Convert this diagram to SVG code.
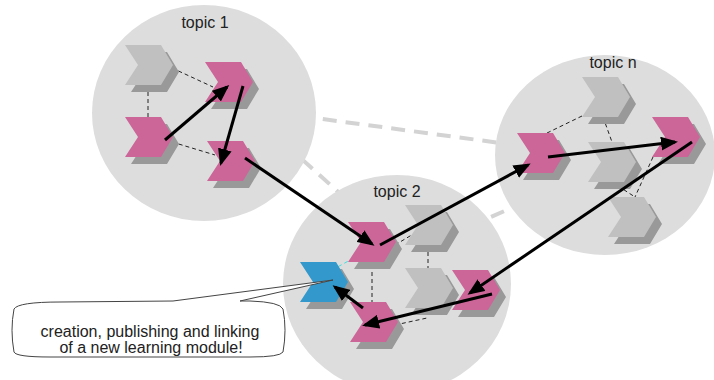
<svg xmlns="http://www.w3.org/2000/svg" xmlns:xlink="http://www.w3.org/1999/xlink" width="714" height="380" viewBox="0 0 714 380">
<style>
.topic{fill:#dddddd;}
.link{stroke:#d3d3d3;stroke-width:4;stroke-dasharray:14 9;fill:none;}
.lbl{font-family:"Liberation Sans",Arial,sans-serif;font-size:16px;fill:#222;text-anchor:middle;}
.thin{stroke:#222;stroke-width:1;stroke-dasharray:4 3;fill:none;}
.cyan{stroke:#44dddd;stroke-width:1;stroke-dasharray:4 3;fill:none;}
.sh{fill:#999999;}
.grey{fill:#c0c0c0;}
.pink{fill:#cc6699;}
.blue{fill:#3399cc;}
.arr{stroke:#000;stroke-width:3;fill:none;marker-end:url(#ah);}
.call{fill:#fff;stroke:#444;stroke-width:1;}
.ctext{font-family:"Liberation Sans",Arial,sans-serif;font-size:16px;fill:#222;text-anchor:middle;}
</style>
<defs>
<path id="chev" d="M0,0 L36,0 L48,20 L36,40 L0,40 L13,20 Z"/>
<marker id="ah" markerUnits="userSpaceOnUse" markerWidth="17" markerHeight="14" refX="14" refY="7" orient="auto">
<path d="M0,0 L17,7 L0,14 Z" fill="#000"/>
</marker>
</defs>
<rect width="714" height="380" fill="#fff"/>
<g id="topic-links">
<line class="link" x1="300" y1="116" x2="515" y2="145"/>
<line class="link" x1="285" y1="144" x2="345" y2="198"/>
<line class="link" x1="470" y1="226" x2="530" y2="200"/>
</g>
<g id="topic1"><ellipse class="topic" cx="204" cy="113" rx="112" ry="108"/><text class="lbl" x="205" y="28">topic 1</text></g>
<g id="topic2"><ellipse class="topic" cx="397" cy="284" rx="114" ry="109"/><text class="lbl" x="397" y="197">topic 2</text></g>
<g id="topicn"><ellipse class="topic" cx="605" cy="155" rx="110" ry="100"/><text class="lbl" x="613" y="68">topic n</text></g>
<g id="relations">
<line class="thin" x1="172" y1="68" x2="213" y2="87"/>
<line class="thin" x1="148" y1="85" x2="148" y2="117"/>
<line class="thin" x1="172" y1="142" x2="215" y2="155"/>
<line class="thin" x1="395" y1="245" x2="420" y2="230"/>
<line class="cyan" x1="332" y1="270" x2="363" y2="253"/>
<line class="thin" x1="372" y1="265" x2="372" y2="302"/>
<line class="thin" x1="428" y1="245" x2="428" y2="270"/>
<line class="thin" x1="395" y1="325" x2="427" y2="318"/>
<line class="thin" x1="547" y1="133" x2="582" y2="116"/>
<line class="thin" x1="603" y1="117" x2="612" y2="142"/>
<line class="thin" x1="612" y1="182" x2="635" y2="197"/>
<line class="thin" x1="653" y1="157" x2="635" y2="197"/>
</g>
<g id="t1-a" transform="translate(125,45)"><use xlink:href="#chev" class="sh" x="6" y="7"/><use xlink:href="#chev" class="grey"/></g>
<g id="t1-b" transform="translate(205,62)"><use xlink:href="#chev" class="sh" x="6" y="7"/><use xlink:href="#chev" class="pink"/></g>
<g id="t1-c" transform="translate(125,117)"><use xlink:href="#chev" class="sh" x="6" y="7"/><use xlink:href="#chev" class="pink"/></g>
<g id="t1-d" transform="translate(207,141)"><use xlink:href="#chev" class="sh" x="6" y="7"/><use xlink:href="#chev" class="pink"/></g>
<g id="t2-f" transform="translate(405,205)"><use xlink:href="#chev" class="sh" x="6" y="7"/><use xlink:href="#chev" class="grey"/></g>
<g id="t2-e" transform="translate(348,222)"><use xlink:href="#chev" class="sh" x="6" y="7"/><use xlink:href="#chev" class="pink"/></g>
<g id="t2-g" transform="translate(300,262)"><use xlink:href="#chev" class="sh" x="6" y="7"/><use xlink:href="#chev" class="blue"/></g>
<g id="t2-h" transform="translate(405,268)"><use xlink:href="#chev" class="sh" x="6" y="7"/><use xlink:href="#chev" class="grey"/></g>
<g id="t2-i" transform="translate(452,270)"><use xlink:href="#chev" class="sh" x="6" y="7"/><use xlink:href="#chev" class="pink"/></g>
<g id="t2-j" transform="translate(350,302)"><use xlink:href="#chev" class="sh" x="6" y="7"/><use xlink:href="#chev" class="pink"/></g>
<g id="tn-1" transform="translate(582,77)"><use xlink:href="#chev" class="sh" x="6" y="7"/><use xlink:href="#chev" class="grey"/></g>
<g id="tn-k" transform="translate(517,133)"><use xlink:href="#chev" class="sh" x="6" y="7"/><use xlink:href="#chev" class="pink"/></g>
<g id="tn-2" transform="translate(588,142)"><use xlink:href="#chev" class="sh" x="6" y="7"/><use xlink:href="#chev" class="grey"/></g>
<g id="tn-m" transform="translate(652,117)"><use xlink:href="#chev" class="sh" x="6" y="7"/><use xlink:href="#chev" class="pink"/></g>
<g id="tn-3" transform="translate(608,197)"><use xlink:href="#chev" class="sh" x="6" y="7"/><use xlink:href="#chev" class="grey"/></g>
<g id="path-arrows">
<line class="arr" x1="165" y1="140" x2="227" y2="87"/>
<line class="arr" x1="243" y1="86" x2="221" y2="163"/>
<line class="arr" x1="245" y1="158" x2="372" y2="244"/>
<line class="arr" x1="380" y1="245" x2="528" y2="165"/>
<line class="arr" x1="548" y1="157" x2="675" y2="142"/>
<line class="arr" x1="692" y1="142" x2="470" y2="293"/>
<line class="arr" x1="492" y1="294" x2="365" y2="325"/>
<line class="arr" x1="363" y1="308" x2="335" y2="287"/>
</g>
<g id="callout">
<path class="call" d="M14,309 Q18,302 60,302 L173,301 L333,280 L240,301 L250,301 Q280,302 283,309 Q287,330 283,352 Q280,357 250,357 L50,357 Q16,357 14,352 Q10,330 14,309 Z"/>
<text class="ctext" x="150" y="337">creation, publishing and linking</text>
<text class="ctext" x="151" y="353">of a new learning module!</text>
</g>
</svg>
